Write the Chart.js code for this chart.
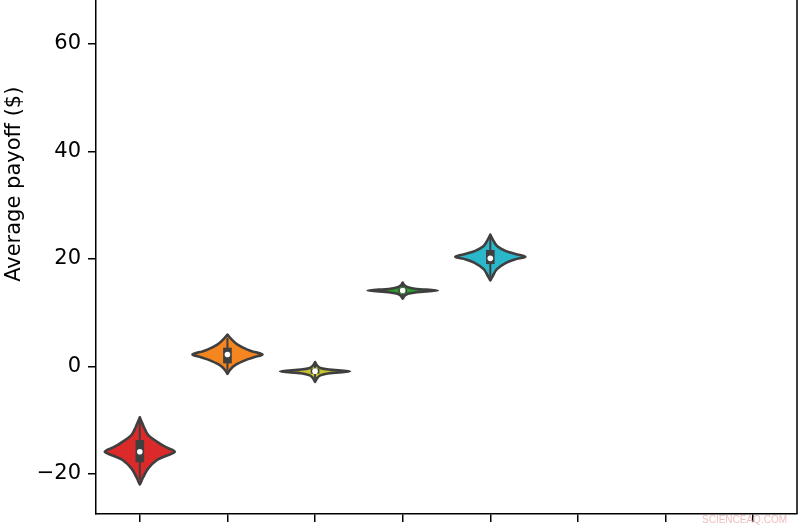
<!DOCTYPE html>
<html><head><meta charset="utf-8">
<script src="https://cdn.jsdelivr.net/npm/chart.js@4.4.0/dist/chart.umd.min.js"></script>
<style>
html,body{margin:0;padding:0;background:#fff}
#wrap{position:relative;width:800px;height:530px;overflow:hidden}
#wm{position:absolute;left:702px;top:514px;font:10px "Liberation Sans",Arial,sans-serif;color:#f2bcbc}
</style>
</head><body>
<div id="wrap"><canvas id="c"></canvas><div id="wm">SCIENCEAQ.COM</div></div>
<script>
// ---- data ----
const categories = ['1','2','3','4','5','6','7','8'];
const fillColors = ['#dc2a2a','#f5851f','#c6c630','#2e9e2e','#2ab7ca',null,null,null];
const medians = [-15.9, 2.2, -0.9, 14.1, 20.1, null, null, null];
const q1 = [-17.8, 0.6, -1.3, 13.8, 19.1, null, null, null];
const q3 = [-13.8, 3.4, -0.5, 14.4, 21.6, null, null, null];
const whiskerLow = [-21.1, -0.8, -2.3, 13.1, 16.6, null, null, null];
const whiskerHigh = [-10.3, 5.3, 0.4, 15.2, 23.9, null, null, null];
// violin outline: y values (top to bottom) and relative half-widths
const redY = [-9.5,-10.3,-11.2,-12.8,-14.3,-15.1,-15.9,-16.7,-17.4,-19.0,-20.6,-21.3,-22.0];
const redW = [0,0.05,0.11,0.24,0.55,0.76,1,0.74,0.5,0.24,0.1,0.05,0];
const orangeY = [5.9,5.0,4.05,3.1,2.65,2.2,1.7,1.25,0.3,-0.6,-1.4];
const orangeW = [0,0.12,0.29,0.57,0.78,1,0.76,0.55,0.24,0.08,0];
const oliveY = [0.8,0.2,-0.3,-0.6,-0.93,-1.3,-1.7,-2.3,-2.9];
const oliveW = [0,0.05,0.15,0.4,1,0.4,0.15,0.05,0];
const greenY = [15.6,15.1,14.7,14.4,14.1,13.8,13.5,13.1,12.6];
const greenW = [0,0.05,0.15,0.4,1,0.4,0.15,0.05,0];
const cyanY = [24.5,23.5,22.4,21.5,20.9,20.4,19.9,19.3,18.1,16.8,16.0];
const cyanW = [0,0.08,0.19,0.43,0.72,1,0.7,0.46,0.19,0.07,0];
const profileY = [redY, orangeY, oliveY, greenY, cyanY, null, null, null];
const profileW = [redW, orangeW, oliveW, greenW, cyanW, null, null, null];
const yMin = -27.5, yMaxVisible = 68.2, yMaxFull = 95.3; // axes extends above the cropped picture
const yTicks = [-20, 0, 20, 40, 60];
const yTitle = 'Average payoff ($)';

const boxData = categories.map((c, i) => (q1[i] === null ? null : [q1[i], q3[i]]));

function splineThrough(ctx, pts, first) {
  const n = pts.length;
  if (first) ctx.moveTo(pts[0][0], pts[0][1]);
  for (let i = 0; i < n - 1; i++) {
    const p0 = pts[Math.max(i - 1, 0)], p1 = pts[i], p2 = pts[i + 1], p3 = pts[Math.min(i + 2, n - 1)];
    const c1x = p1[0] + (p2[0] - p0[0]) / 6, c1y = p1[1] + (p2[1] - p0[1]) / 6;
    const c2x = p2[0] - (p3[0] - p1[0]) / 6, c2y = p2[1] - (p3[1] - p1[1]) / 6;
    ctx.bezierCurveTo(c1x, c1y, c2x, c2y, p2[0], p2[1]);
  }
}

const violinPlugin = {
  id: 'violins',
  beforeDatasetsDraw(chart) {
    const {ctx} = chart;
    const xs = chart.scales.x, ys = chart.scales.y;
    const step = xs.getPixelForValue(1) - xs.getPixelForValue(0);
    const half = step * 0.4;
    ctx.save();
    for (let i = 0; i < categories.length; i++) {
      const py = profileY[i];
      if (!py) continue;
      const pw = profileW[i];
      const cx = xs.getPixelForValue(i);
      const right = py.map((v, k) => [cx + pw[k] * half, ys.getPixelForValue(v)]);
      const left = py.map((v, k) => [cx - pw[k] * half, ys.getPixelForValue(v)]).reverse();
      ctx.beginPath();
      splineThrough(ctx, right, true);
      splineThrough(ctx, left, false);
      ctx.closePath();
      ctx.fillStyle = fillColors[i];
      ctx.fill();
      ctx.lineWidth = 2.6;
      ctx.lineJoin = 'round';
      ctx.strokeStyle = '#3f3f3f';
      ctx.stroke();
      // whisker
      ctx.beginPath();
      ctx.lineWidth = 2;
      ctx.moveTo(cx, ys.getPixelForValue(whiskerHigh[i]));
      ctx.lineTo(cx, ys.getPixelForValue(whiskerLow[i]));
      ctx.stroke();
    }
    ctx.restore();
  },
  afterDatasetsDraw(chart) {
    const {ctx} = chart;
    const xs = chart.scales.x, ys = chart.scales.y;
    ctx.save();
    ctx.fillStyle = '#ffffff';
    for (let i = 0; i < categories.length; i++) {
      if (medians[i] === null) continue;
      ctx.beginPath();
      ctx.arc(xs.getPixelForValue(i), ys.getPixelForValue(medians[i]), 2.8, 0, Math.PI * 2);
      ctx.fill();
    }
    ctx.restore();
  }
};

const font = {family: 'DejaVu Sans', size: 21};

const framePlugin = {
  id: 'frame',
  afterDraw(chart) {
    const {ctx, chartArea} = chart;
    const ys = chart.scales.y;
    ctx.save();
    ctx.strokeStyle = '#000';
    ctx.lineWidth = 1.5;
    ctx.beginPath();
    ctx.moveTo(chartArea.right, chartArea.top);
    ctx.lineTo(chartArea.right, chartArea.bottom);
    ctx.stroke();
    // y-axis title, centred on the full (uncropped) axes height
    const cy = ys.getPixelForValue((yMin + yMaxFull) / 2);
    const cx = ys.left + 2 + font.size * 1.2 / 2;
    ctx.translate(cx, cy);
    ctx.rotate(-Math.PI / 2);
    ctx.fillStyle = '#000';
    ctx.font = font.size + 'px "' + font.family + '"';
    ctx.textAlign = 'center';
    ctx.textBaseline = 'middle';
    ctx.fillText(yTitle, 0, 0);
    ctx.restore();
  }
};

new Chart(document.getElementById('c'), {
  type: 'bar',
  data: {
    labels: categories,
    datasets: [{
      data: boxData,
      backgroundColor: '#3f3f3f',
      borderWidth: 0,
      borderSkipped: false,
      barThickness: 8
    }]
  },
  options: {
    responsive: true,
    maintainAspectRatio: false,
    animation: false,
    events: [],
    layout: {padding: {left: 0, right: 3, top: 0, bottom: 0}},
    plugins: {legend: {display: false}, tooltip: {enabled: false}},
    scales: {
      x: {
        type: 'category',
        offset: true,
        grid: {offset: false, drawOnChartArea: false, drawTicks: true, tickLength: 8, color: '#000', lineWidth: 1.5},
        border: {display: true, color: '#000', width: 1.5},
        ticks: {display: false},
        afterFit(s) { s.height = 16; }
      },
      y: {
        min: yMin,
        max: yMaxVisible,
        afterBuildTicks(s) { s.ticks = yTicks.map(v => ({value: v})); },
        ticks: {
          color: '#000', font: font, padding: 7,
          callback: v => String(v).replace('-', '\u2212')
        },
        grid: {drawOnChartArea: false, drawTicks: true, tickLength: 8, color: '#000', lineWidth: 1.5},
        border: {display: true, color: '#000', width: 1.5},
        afterFit(s) { s.width = 96; s.paddingTop = 0; s.paddingBottom = 0; }
      }
    }
  },
  plugins: [violinPlugin, framePlugin]
});
</script>
</body></html>
